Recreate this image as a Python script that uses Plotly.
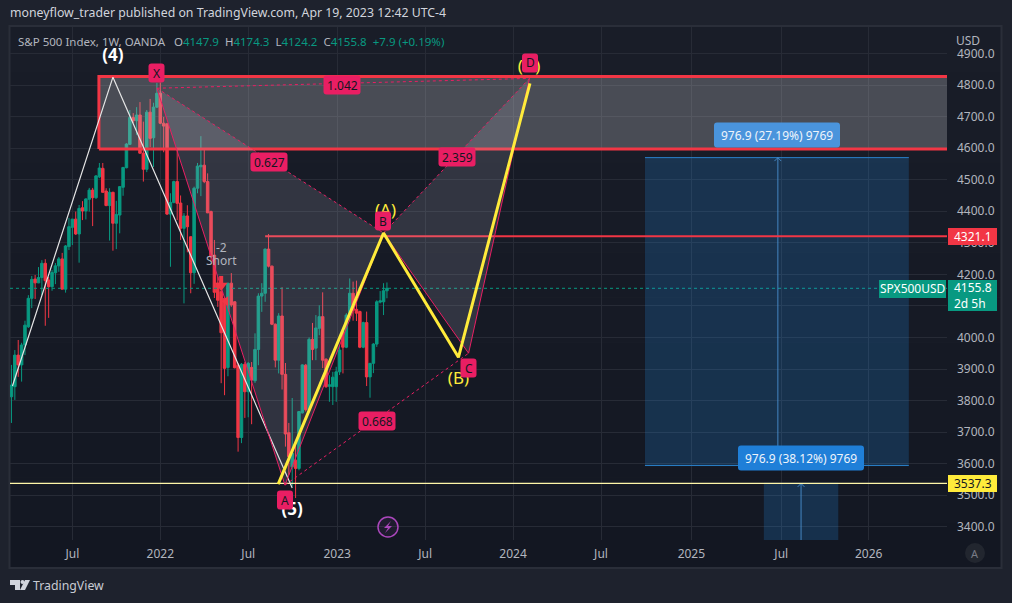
import plotly.graph_objects as go
import pandas as pd

W, H = 1012, 603

# ---------- data ----------
dates = pd.date_range("2021-03-01", periods=112, freq="7D")
opens = [3812,3844,3944,3913,3976,4034,4124,4185,4173,4190,4235,4182,4161,4205,4227,4249,4153,4288,4349,4375,
         4328,4411,4401,4438,4467,4443,4509,4536,4464,4418,4460,4362,4388,4476,4538,4612,4697,4687,4705,4584,
         4533,4714,4633,4730,4774,4679,4677,4391,4428,4494,4426,4346,4385,4319,4205,4473,4541,4546,4494,4399,
         4261,4172,4145,4124,3905,4172,4113,3912,3683,3915,3828,3905,3863,3962,4131,4140,4280,4226,4042,3928,
         4068,3883,3698,3590,3611,3585,3761,3912,3771,3994,3966,4029,4066,3931,3845,3844,3844,3891,4018,3969,
         4071,4140,4089,4082,3969,4047,3875,3918,3979,4112,4113,4147.9]
highs = [3913,3960,3992,3983,4053,4134,4195,4198,4223,4245,4248,4192,4214,4236,4255,4268,4293,4379,4375,4399,
         4420,4432,4441,4474,4474,4515,4553,4553,4473,4473,4462,4433,4480,4540,4616,4721,4711,4730,4746,4684,
         4721,4756,4744,4807,4808,4699,4680,4457,4497,4594,4450,4394,4419,4321,4478,4553,4638,4594,4520,4402,
         4309,4192,4182,4129,4172,4204,4115,3919,3919,3922,3922,3922,4013,4140,4172,4282,4328,4228,4044,4077,
         4159,3919,3729,3808,3669,3767,3915,3916,4000,4046,4071,4102,4143,3934,3880,3891,3907,3976,4026,4077,
         4187,4177,4180,4085,4050,4082,3919,3982,4118,4147,4172,4174.3]
lows = [3729,3802,3875,3860,3944,4030,4093,4122,4172,4134,4037,4062,4148,4169,4208,4153,4142,4277,4293,4325,
        4237,4372,4374,4399,4353,4439,4505,4459,4416,4307,4275,4280,4330,4449,4536,4610,4680,4642,4582,4494,
        4524,4603,4540,4727,4676,4587,4388,4224,4425,4372,4309,4108,4270,4140,4170,4457,4448,4489,4394,4240,
        4125,4097,3855,3817,3877,4097,3902,3638,3665,3745,3747,3725,3856,3912,4081,4113,4222,4039,3905,3886,
        3835,3654,3564,3527,3491,3579,3759,3765,3765,3928,3928,4007,3903,3840,3796,3786,3796,3881,3886,3966,
        4050,4053,4052,3966,3966,3846,3809,3887,3970,4108,4071,4124.2]
closes = [3849,3944,3913,3976,4039,4124,4184,4173,4190,4235,4180,4161,4206,4227,4249,4153,4290,4351,4375,4328,
          4409,4401,4439,4467,4443,4512,4537,4460,4418,4460,4362,4390,4478,4539,4613,4697,4687,4705,4584,4533,
          4714,4631,4730,4774,4679,4670,4391,4428,4494,4425,4346,4385,4351,4205,4473,4543,4546,4494,4395,4256,
          4143,4118,4015,3902,4172,4103,3904,3683,3915,3828,3918,3865,3962,4131,4140,4280,4226,4042,3928,4068,
          3883,3694,3622,3633,3585,3765,3913,3771,3994,3962,4030,4066,3928,3844,3850,3874,3891,3960,3969,4071,
          4140,4086,4077,3969,4047,3875,3918,3979,4113,4116,4148,4155.8]

y_ticks = [3400,3500,3600,3700,3800,3900,4000,4100,4200,4300,4400,4500,4600,4700,4800,4900]
x_tick_dates = ["2021-07-05","2022-01-03","2022-07-04","2023-01-04","2023-07-05","2024-01-03","2024-07-03","2025-01-06","2025-07-11","2026-01-08"]
x_tick_text = ["Jul","2022","Jul","2023","Jul","2024","Jul","2025","Jul","2026"]
x_range = ["2021-02-26","2026-06-19"]
y_range = [3358,4984]

# XABCD harmonic pattern
pat_dates = ["2021-12-27","2022-09-18","2023-04-10","2023-10-03","2024-02-06"]
pat_vals = [4790,3532,4331,3950,4821]
# yellow ABCD projection
yel_dates = ["2022-09-04","2023-04-10","2023-09-12","2024-02-07"]
yel_vals = [3535,4331,3937,4805]
# white wave
wave_dates = ["2021-03-03","2021-09-27","2022-10-03"]
wave_vals = [3846,4825,3523]
# supply zone
zone_dates = ["2021-08-29","2026-08-01"]
zone_vals = [4597,4827]
# levels
last_price = 4155.8
line_high = 4321.1
line_high_start = "2022-08-08"
line_low = 3537.3
# long positions: left, middle, right dates / low, high prices
pos1_dates = ["2024-10-02","2025-07-04","2026-04-01"]
pos1_vals = [3594,4570]
pos2_dates = ["2025-06-05","2025-08-21","2025-11-06"]
pos2_vals = [2560.4,3537.3]
# signal markers
arrow_date = "2022-05-09"
arrow_shaft = [4195,4172]
arrow_head = 4165
flag_date = "2022-05-19"
flag_val = 4115
# wave labels
wlab_text = ["(4)","(5)"]
wlab_dates = ["2021-09-27","2022-10-03"]
wlab_vals = [4890,3450]
ylab_text = ["(A)","(B)","(D)"]
ylab_dates = ["2023-04-14","2023-09-12","2024-02-05"]
ylab_vals = [4400,3865,4855]

# ---------- helpers (page pixels -> paper fractions) ----------
def fx(x): return x / W
def fy(y): return 1 - y / H

def rrect(x0, y0, x1, y1, r, color):
    p = (f"M{fx(x0+r)},{fy(y0)} L{fx(x1-r)},{fy(y0)} Q{fx(x1)},{fy(y0)} {fx(x1)},{fy(y0+r)} "
         f"L{fx(x1)},{fy(y1-r)} Q{fx(x1)},{fy(y1)} {fx(x1-r)},{fy(y1)} L{fx(x0+r)},{fy(y1)} "
         f"Q{fx(x0)},{fy(y1)} {fx(x0)},{fy(y1-r)} L{fx(x0)},{fy(y0+r)} Q{fx(x0)},{fy(y0)} {fx(x0+r)},{fy(y0)} Z")
    return dict(type="path", xref="paper", yref="paper", path=p, fillcolor=color, line_width=0, layer="above")

FONT = "Noto Sans, sans-serif"
TEAL, RED, PINK = "#089981", "#f23645", "#e91e63"
YEL = "#ffeb3b"
GRID = "#272b36"
TXT = "#b2b5be"

fig = go.Figure()

shapes, annos = [], []

def text(x, y, s, size=12, color=TXT, anchor="center", bold=False):
    annos.append(dict(xref="paper", yref="paper", x=fx(x), y=fy(y), text=f"<b>{s}</b>" if bold else s,
                      showarrow=False, xanchor=anchor, yanchor="middle",
                      font=dict(family=FONT, size=size, color=color), align="left"))

def tag(cx, cy, w, h, s, bg=PINK, color="#131722", size=12, r=3):
    shapes.append(rrect(cx - w/2, cy - h/2, cx + w/2, cy + h/2, r, bg))
    text(cx, cy, s, size=size, color=color)

# chart background with soft vertical gradient
n = 12
top, bot = (25, 29, 40), (19, 23, 34)
for i in range(n):
    t = i / (n - 1)
    c = tuple(round(top[k] + (bot[k] - top[k]) * t) for k in range(3))
    y0 = 27 + (568 - 27) * i / n
    y1 = 27 + (568 - 27) * (i + 1) / n
    shapes.append(dict(type="rect", xref="paper", yref="paper", x0=fx(10), x1=fx(1001), y0=fy(y0), y1=fy(y1),
                       fillcolor=f"rgb{c}", line_width=0, layer="below"))
shapes.append(dict(type="rect", xref="paper", yref="paper", x0=fx(9.5), x1=fx(1001.5), y0=fy(26), y1=fy(568),
                   fillcolor="rgba(0,0,0,0)", line=dict(color="#2a2e39", width=2), layer="below"))

# candles
fig.add_trace(go.Candlestick(x=dates, open=opens, high=highs, low=lows, close=closes, whiskerwidth=0,
                             increasing=dict(fillcolor=TEAL, line=dict(color=TEAL, width=1)),
                             decreasing=dict(fillcolor=RED, line=dict(color=RED, width=1)),
                             hoverinfo="skip"))

# last price line
fig.add_trace(go.Scatter(x=x_range, y=[last_price, last_price], mode="lines",
                         line=dict(color=TEAL, width=1, dash="dot")))

# zone
z0, z1 = zone_dates
fig.add_trace(go.Scatter(x=[z0, z1, z1, z0, z0], y=[zone_vals[0], zone_vals[0], zone_vals[1], zone_vals[1], zone_vals[0]],
                         mode="lines", fill="toself", fillcolor="rgba(200,200,205,0.28)",
                         line=dict(color=RED, width=3)))

# positions
def position(ds, vs):
    a, mid, b = ds
    lo, hi = vs
    fig.add_trace(go.Scatter(x=[a, b, b, a, a], y=[lo, lo, hi, hi, lo], mode="lines", fill="toself",
                             fillcolor="rgba(33,150,243,0.2)", line=dict(width=0)))
    fig.add_trace(go.Scatter(x=[a, b, None, a, b], y=[lo, lo, None, hi, hi], mode="lines",
                             line=dict(color="#2a7fc9", width=1)))
    m = pd.Timestamp(mid)
    d = pd.Timedelta(days=7)
    fig.add_trace(go.Scatter(x=[mid, mid, None, m - d, mid, m + d], y=[lo, hi, None, hi - 11, hi, hi - 11],
                             mode="lines", line=dict(color="#4a90cf", width=0.9)))
position(pos1_dates, pos1_vals)
position(pos2_dates, pos2_vals)

# level lines
fig.add_trace(go.Scatter(x=[line_high_start, x_range[1]], y=[line_high, line_high], mode="lines",
                         line=dict(color=RED, width=2)))
fig.add_trace(go.Scatter(x=x_range, y=[line_low, line_low], mode="lines",
                         line=dict(color="#fff6a8", width=1.2)))

# white wave
fig.add_trace(go.Scatter(x=wave_dates, y=wave_vals, mode="lines", line=dict(color="#e6e6e6", width=1.2)))

# pattern fills
X, A, B, C, D = list(zip(pat_dates, pat_vals))
for tri in ([X, A, B, X], [B, C, D, B]):
    fig.add_trace(go.Scatter(x=[p[0] for p in tri], y=[p[1] for p in tri], mode="lines", fill="toself",
                             fillcolor="rgba(190,195,210,0.16)", line=dict(width=0)))
fig.add_trace(go.Scatter(x=pat_dates, y=pat_vals, mode="lines", line=dict(color=PINK, width=1)))
for a, b in ((X, B), (A, C), (B, D), (X, D)):
    fig.add_trace(go.Scatter(x=[a[0], b[0]], y=[a[1], b[1]], mode="lines",
                             line=dict(color=PINK, width=1, dash="dot")))

# yellow projection
fig.add_trace(go.Scatter(x=yel_dates, y=yel_vals, mode="lines", line=dict(color=YEL, width=3)))

# signal arrows
fig.add_trace(go.Scatter(x=[arrow_date, arrow_date], y=arrow_shaft, mode="lines", line=dict(color=RED, width=4)))
fig.add_trace(go.Scatter(x=[arrow_date], y=[arrow_head], mode="markers",
                         marker=dict(symbol="triangle-down", size=11, color=RED)))
fig.add_trace(go.Scatter(x=[flag_date], y=[flag_val], mode="markers",
                         marker=dict(symbol="triangle-left", size=9, color=RED)))

# wave labels
fig.add_trace(go.Scatter(x=wlab_dates, y=wlab_vals, mode="text", text=wlab_text,
                         textfont=dict(family=FONT, size=17, color="#ffffff", weight="bold")))
fig.add_trace(go.Scatter(x=ylab_dates, y=ylab_vals, mode="text", text=ylab_text,
                         textfont=dict(family=FONT, size=17, color=YEL)))

# header
text(8, 12, "moneyflow_trader published on TradingView.com, Apr 19, 2023 12:42 UTC-4", size=12.3, color="#d1d4dc", anchor="left")
g = lambda s: f'<span style="color:{TEAL}">{s}</span>'
text(16, 41, "S&amp;P 500 Index, 1W, OANDA  &nbsp;O" + g("4147.9") + " &nbsp;H" + g("4174.3") + " &nbsp;L" + g("4124.2")
     + " &nbsp;C" + g("4155.8") + " &nbsp;" + g("+7.9 (+0.19%)"), size=11.5, color=TXT, anchor="left")
text(968, 40, "USD", size=12, color=TXT)

# pattern tags
tag(156.5, 73, 16, 19, "X")
tag(285, 500, 16, 19, "A")
tag(383, 221, 16, 19, "B")
tag(468.5, 368, 16, 19, "C")
tag(530, 63, 16, 19, "D")
tag(269, 162, 37, 19, "0.627")
tag(342, 85, 37, 19, "1.042")
tag(457, 157, 37, 19, "2.359")
tag(377, 421, 37, 19, "0.668")

# position labels
tag(777, 135, 126, 25, "976.9 (27.19%) 9769", bg="#4a94dc", color="#eef4fb", size=12)
tag(801, 458, 126, 25, "976.9 (38.12%) 9769", bg="#1f7fd8", color="#eef4fb", size=12)

# signal text
text(221, 247, "-2", size=12, color=TXT)
text(221, 261, "Short", size=12, color=TXT)

# price-axis tags
def ptag(x0, y0, x1, y1, s, bg, color):
    shapes.append(dict(type="rect", xref="paper", yref="paper", x0=fx(x0), x1=fx(x1), y0=fy(y0), y1=fy(y1),
                       fillcolor=bg, line_width=0, layer="above"))
    text((x0 + x1) / 2, (y0 + y1) / 2, s, size=12, color=color)

ptag(948, 228, 997, 245, "4321.1", RED, "#ffffff")
ptag(948, 475, 997, 492, "3537.3", YEL, "#131722")
ptag(948, 280, 997, 311, "4155.8<br>2d 5h", TEAL, "#ffffff")
ptag(879, 280, 946, 298, "SPX500USD", TEAL, "#ffffff")

# bolt badge
shapes.append(dict(type="circle", xref="paper", yref="paper", x0=fx(378), x1=fx(398), y0=fy(537), y1=fy(517),
                   fillcolor="rgba(171,71,188,0.08)", line=dict(color="#ab47bc", width=1.5), layer="above"))
bolt = [(391, 521), (384, 528), (388, 528), (385, 533), (392, 526), (388, 526)]
shapes.append(dict(type="path", xref="paper", yref="paper", layer="above", fillcolor="#ab47bc", line_width=0,
                   path="M" + " L".join(f"{fx(a)},{fy(b)}" for a, b in bolt) + " Z"))

# auto badge
shapes.append(dict(type="circle", xref="paper", yref="paper", x0=fx(965), x1=fx(985), y0=fy(563), y1=fy(543),
                   fillcolor="#22262f", line_width=0, layer="above"))
text(975, 553, "A", size=11, color="#787b86")

# TradingView logo
logo = [(10, 580), (20, 580), (20, 590), (15, 590), (15, 585), (10, 585)]
shapes.append(dict(type="path", xref="paper", yref="paper", layer="above", fillcolor="#d1d4dc", line_width=0,
                   path="M" + " L".join(f"{fx(a)},{fy(b)}" for a, b in logo) + " Z"))
shapes.append(dict(type="circle", xref="paper", yref="paper", x0=fx(20.5), x1=fx(24.5), y0=fy(584), y1=fy(580),
                   fillcolor="#d1d4dc", line_width=0, layer="above"))
slash = [(25, 580), (30, 580), (25, 590), (20, 590)]
shapes.append(dict(type="path", xref="paper", yref="paper", layer="above", fillcolor="#d1d4dc", line_width=0,
                   path="M" + " L".join(f"{fx(a)},{fy(b)}" for a, b in slash) + " Z"))
text(31, 585.5, "TradingView", size=12.3, color="#c8cbd3", anchor="left")

fig.update_layout(
    width=W, height=H, autosize=False,
    margin=dict(l=0, r=0, t=0, b=0),
    paper_bgcolor="#1e222d", plot_bgcolor="rgba(0,0,0,0)",
    showlegend=False, hovermode=False,
    boxgap=0.14, boxgroupgap=0.14,
    shapes=shapes, annotations=annos,
    font=dict(family=FONT, color=TXT, size=12),
    xaxis=dict(domain=[10 / W, 947 / W], range=x_range, type="date", rangeslider=dict(visible=False),
               tickmode="array", tickvals=x_tick_dates, ticktext=x_tick_text, showgrid=True, gridcolor=GRID, gridwidth=1,
               zeroline=False, showline=False, ticks="", ticklabelstandoff=5, tickfont=dict(family=FONT, size=12, color=TXT)),
    yaxis=dict(domain=[1 - 540 / H, 1 - 27 / H], range=y_range, side="right",
               tickmode="array", tickvals=y_ticks, ticktext=[f"{v:.1f}" for v in y_ticks],
               showgrid=True, gridcolor=GRID, gridwidth=1, zeroline=False, showline=False, ticks="",
               ticklabelstandoff=9, tickfont=dict(family=FONT, size=12, color=TXT)),
)

fig.write_html("out.html", config=dict(displayModeBar=False),
               post_script="document.body.style.margin='0';document.body.style.overflow='hidden';")
